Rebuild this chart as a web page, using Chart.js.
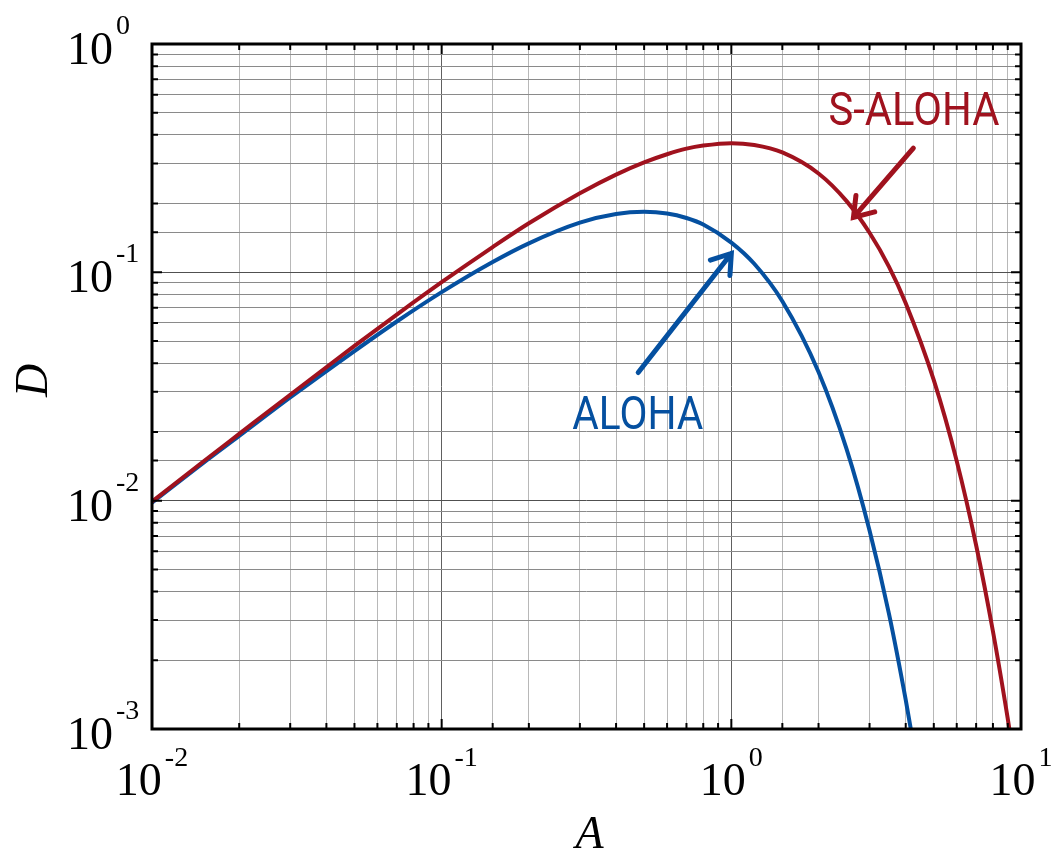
<!DOCTYPE html>
<html lang="en">
<head>
  <meta charset="UTF-8" />
  <title>ALOHA / S-ALOHA</title>
  <script src="https://cdn.jsdelivr.net/npm/chart.js"></script>
  <style>
    body { margin: 0; background: #fff; }
    #wrap { width: 1062px; height: 852px; }
  </style>
</head>
<body>
<div id="wrap"><canvas id="chart" width="1062" height="852"></canvas></div>

<script>
  // ---- data ----
  const alohaA = [0.01, 0.015, 0.02, 0.03, 0.05, 0.07, 0.1, 0.15, 0.2, 0.3, 0.4, 0.5, 0.6, 0.7, 0.8, 1.0, 1.2, 1.5, 2.0, 2.5, 3.0, 3.5, 4.0, 4.3];
  const alohaD = [0.0098, 0.0146, 0.0192, 0.0283, 0.0452, 0.0609, 0.0819, 0.111, 0.134, 0.165, 0.180, 0.184, 0.181, 0.173, 0.162, 0.135, 0.109, 0.0747, 0.0366, 0.0168, 0.0074, 0.0032, 0.00134, 0.00079];

  const salohaA = [0.01, 0.015, 0.02, 0.03, 0.05, 0.07, 0.1, 0.15, 0.2, 0.3, 0.4, 0.5, 0.6, 0.7, 0.8, 1.0, 1.2, 1.5, 2.0, 2.5, 3.0, 3.5, 4.0, 5.0, 6.0, 7.0, 8.0, 9.0, 9.5];
  const salohaD = [0.0099, 0.0148, 0.0196, 0.0291, 0.0476, 0.0653, 0.0905, 0.129, 0.164, 0.222, 0.268, 0.303, 0.329, 0.348, 0.359, 0.368, 0.361, 0.335, 0.271, 0.205, 0.149, 0.106, 0.0733, 0.0337, 0.0149, 0.00638, 0.00268, 0.00111, 0.00071];

  // tick labels: 10^exp
  const xTicks = [0.01, 0.1, 1, 10];
  const xExp = ['-2', '-1', '0', '1'];
  const yTicks = [0.001, 0.01, 0.1, 1];
  const yExp = ['-3', '-2', '-1', '0'];

  const RED = '#A0121E';
  const BLUE = '#0550A0';

  // labels + arrows, in data coords
  const notes = [
    { text: 'S-ALOHA', color: RED, x: 2.163, y: 0.4414, width: 171, from: [4.25, 0.350], to: [2.64, 0.174] },
    { text: 'ALOHA', color: BLUE, x: 0.2824, y: 0.0207, width: 131, from: [0.477, 0.0364], to: [1.0, 0.121] }
  ];

  const toPts = (xs, ys) => xs.map((x, i) => ({ x: x, y: ys[i] }));
  const isMajor = v => Math.abs(Math.log10(v) - Math.round(Math.log10(v))) < 1e-6;

  // frame, inward ticks, 10^n labels, axis titles, arrows
  const decorPlugin = {
    id: 'decor',
    afterDraw(chart) {
      const ctx = chart.ctx;
      const area = chart.chartArea;
      const xs = chart.scales.x;
      const ys = chart.scales.y;
      ctx.save();

      // inward ticks
      ctx.strokeStyle = '#000';
      ctx.lineWidth = 2;
      xs.ticks.forEach(t => {
        const px = xs.getPixelForValue(t.value);
        const len = isMajor(t.value) ? 10 : 6;
        ctx.beginPath();
        ctx.moveTo(px, area.bottom); ctx.lineTo(px, area.bottom - len);
        ctx.moveTo(px, area.top); ctx.lineTo(px, area.top + len);
        ctx.stroke();
      });
      ys.ticks.forEach(t => {
        const py = ys.getPixelForValue(t.value);
        const len = isMajor(t.value) ? 10 : 6;
        ctx.beginPath();
        ctx.moveTo(area.left, py); ctx.lineTo(area.left + len, py);
        ctx.moveTo(area.right, py); ctx.lineTo(area.right - len, py);
        ctx.stroke();
      });

      // frame
      ctx.lineWidth = 3;
      ctx.strokeRect(area.left, area.top, area.right - area.left, area.bottom - area.top);

      // tick labels
      ctx.fillStyle = '#000';
      ctx.textBaseline = 'alphabetic';
      const big = '46px "Liberation Serif", serif';
      const small = '28px "Liberation Serif", serif';
      xTicks.forEach((v, i) => {
        const px = xs.getPixelForValue(v);
        ctx.font = big;
        const w1 = ctx.measureText('10').width;
        ctx.font = small;
        const w2 = ctx.measureText(xExp[i]).width;
        const left = px - (w1 + 3 + w2) / 2;
        ctx.textAlign = 'left';
        ctx.font = big;
        ctx.fillText('10', left, area.bottom + 66);
        ctx.font = small;
        ctx.fillText(xExp[i], left + w1 + 3, area.bottom + 37);
      });
      yTicks.forEach((v, i) => {
        const py = ys.getPixelForValue(v);
        ctx.textAlign = 'left';
        ctx.font = big;
        ctx.fillText('10', 67, py + 20);
        ctx.font = small;
        ctx.fillText(yExp[i], 116, py - 10);
      });

      // axis titles
      ctx.font = 'italic 46px "Liberation Serif", serif';
      ctx.textAlign = 'center';
      ctx.fillText('A', (area.left + area.right) / 2 + 3, 848);
      ctx.save();
      ctx.translate(47, (area.top + area.bottom) / 2 - 6);
      ctx.rotate(-Math.PI / 2);
      ctx.fillText('D', 0, 0);
      ctx.restore();

      // arrows and curve labels
      notes.forEach(n => {
        const x0 = xs.getPixelForValue(n.from[0]), y0 = ys.getPixelForValue(n.from[1]);
        const x1 = xs.getPixelForValue(n.to[0]), y1 = ys.getPixelForValue(n.to[1]);
        const ang = Math.atan2(y0 - y1, x0 - x1);
        ctx.strokeStyle = n.color;
        ctx.lineWidth = 5;
        ctx.lineCap = 'round';
        ctx.beginPath();
        ctx.moveTo(x0, y0); ctx.lineTo(x1, y1);
        ctx.moveTo(x1 + 22 * Math.cos(ang + 0.6), y1 + 22 * Math.sin(ang + 0.6));
        ctx.lineTo(x1, y1);
        ctx.lineTo(x1 + 22 * Math.cos(ang - 0.6), y1 + 22 * Math.sin(ang - 0.6));
        ctx.stroke();

        ctx.font = '46px Roboto, sans-serif';
        const w = ctx.measureText(n.text).width;
        ctx.save();
        ctx.translate(xs.getPixelForValue(n.x), ys.getPixelForValue(n.y));
        ctx.scale(n.width / w, 1);
        ctx.fillStyle = n.color;
        ctx.textAlign = 'left';
        ctx.fillText(n.text, 0, 0);
        ctx.restore();
      });

      ctx.restore();
    }
  };

  const gridOpts = (minorColor, majorColor) => ({
    drawTicks: false,
    color: c => (c.tick && isMajor(c.tick.value)) ? majorColor : minorColor,
    lineWidth: 1
  });

  new Chart(document.getElementById('chart'), {
    type: 'line',
    data: {
      datasets: [
        {
          label: 'S-ALOHA',
          data: toPts(salohaA, salohaD),
          borderColor: RED,
          borderWidth: 4,
          pointRadius: 0,
          cubicInterpolationMode: 'monotone'
        },
        {
          label: 'ALOHA',
          data: toPts(alohaA, alohaD),
          borderColor: BLUE,
          borderWidth: 4,
          pointRadius: 0,
          cubicInterpolationMode: 'monotone'
        }
      ]
    },
    options: {
      responsive: false,
      animation: false,
      layout: { padding: { left: 152, top: 44, right: 41, bottom: 123 } },
      plugins: { legend: { display: false }, tooltip: { enabled: false } },
      scales: {
        x: {
          type: 'logarithmic',
          min: 0.01,
          max: 10,
          ticks: { display: false, autoSkip: false },
          grid: gridOpts('#b8b8b8', '#606060'),
          border: { display: false }
        },
        y: {
          type: 'logarithmic',
          min: 0.001,
          max: 1,
          ticks: { display: false, autoSkip: false },
          grid: gridOpts('#8a8a8a', '#505050'),
          border: { display: false }
        }
      }
    },
    plugins: [decorPlugin]
  });
</script>
</body>
</html>
